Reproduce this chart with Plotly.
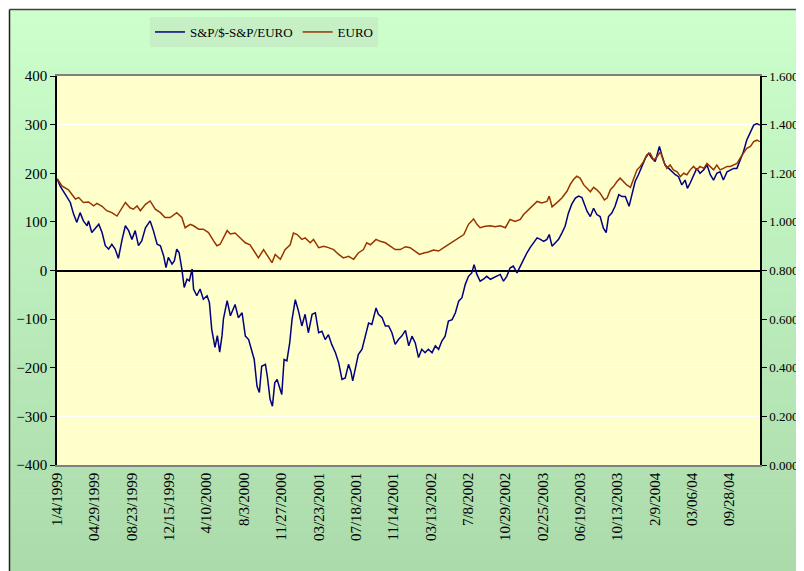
import plotly.graph_objects as go

# ---------------- data ----------------
# trading-day index since 1/4/1999 for each sampled point
spread_days = [0,6,17,28,35,42,49,56,64,67,74,81,89,96,103,110,117,124,131,139,146,153,160,167,174,181,189,199,206,214,221,228,233,238,246,251,256,261,267,272,278,283,289,292,299,306,313,321,326,331,338,343,348,353,356,364,371,381,388,396,403,410,417,422,428,433,438,446,450,456,461,466,471,476,481,486,492,498,503,510,517,524,531,538,546,553,560,567,574,581,588,596,603,610,617,624,629,633,638,645,653,660,667,674,683,688,696,703,710,717,724,731,738,746,753,760,767,774,781,788,795,803,810,817,824,831,838,846,853,860,867,874,881,888,893,899,906,913,920,928,935,942,949,956,963,970,977,985,992,999,1006,1013,1020,1028,1035,1042,1049,1054,1060,1067,1074,1081,1088,1095,1102,1110,1117,1124,1130,1135,1142,1149,1156,1163,1170,1176,1181,1188,1195,1203,1210,1217,1225,1231,1238,1245,1253,1260,1267,1274,1281,1290,1295,1302,1310,1317,1324,1331,1338,1345,1350,1356,1363,1370,1377,1385,1392,1399,1406,1413,1420,1427,1435,1442,1449,1456,1463,1470,1477,1485,1492,1499,1505]
# S&P/$ - S&P/EURO (left axis)
spread_values = [188,174,157,140,116,99,119,102,92,102,78,85,95,78,51,44,54,44,25,64,92,82,64,82,51,61,88,102,82,54,51,30,6,27,13,20,44,37,3,-35,-18,-21,3,-38,-52,-38,-59,-52,-66,-121,-158,-134,-168,-134,-100,-62,-93,-70,-97,-87,-135,-142,-166,-183,-238,-251,-197,-193,-217,-265,-279,-231,-224,-238,-255,-183,-186,-149,-101,-60,-84,-114,-90,-128,-90,-87,-128,-125,-142,-132,-152,-169,-190,-224,-221,-193,-207,-227,-203,-173,-162,-135,-108,-111,-77,-90,-97,-114,-114,-128,-152,-142,-135,-123,-155,-135,-149,-179,-162,-169,-162,-169,-155,-162,-145,-135,-104,-101,-87,-63,-56,-29,-12,-5,12,-8,-22,-18,-12,-18,-15,-12,-8,-22,-12,5,9,-5,9,23,36,47,57,67,64,60,64,74,50,57,64,77,91,118,136,149,153,150,132,122,111,128,115,111,87,78,111,118,132,156,152,152,132,156,183,197,217,231,241,231,224,255,238,217,210,203,197,193,176,186,169,180,197,210,200,207,217,197,186,200,203,186,203,207,210,210,227,244,268,285,299,302,299]

euro_days = [0,10,24,39,46,56,67,78,85,96,106,117,128,139,146,156,163,171,178,189,199,210,221,231,242,256,267,274,285,292,303,313,324,335,342,349,356,364,371,381,392,403,413,424,431,442,453,460,467,478,488,499,506,514,524,531,542,549,560,571,581,592,603,613,624,635,645,656,663,671,683,692,703,713,724,735,746,756,767,776,785,795,806,817,828,838,849,860,871,881,892,899,906,917,928,938,949,960,970,981,992,999,1010,1020,1028,1038,1049,1054,1060,1070,1081,1092,1099,1106,1113,1120,1128,1135,1142,1149,1156,1163,1172,1178,1185,1192,1199,1206,1213,1220,1228,1235,1242,1249,1256,1263,1270,1278,1285,1292,1299,1306,1313,1320,1328,1335,1342,1349,1356,1363,1370,1377,1385,1392,1399,1406,1413,1420,1427,1435,1442,1449,1456,1463,1470,1477,1485,1492,1499,1505]
# EURO in $ (right axis)
euro_values = [1.178,1.148,1.132,1.094,1.100,1.080,1.082,1.066,1.076,1.064,1.046,1.038,1.024,1.058,1.080,1.058,1.052,1.066,1.046,1.072,1.086,1.052,1.038,1.018,1.018,1.038,1.018,0.976,0.990,0.984,0.970,0.970,0.956,0.922,0.902,0.908,0.936,0.964,0.950,0.954,0.934,0.914,0.906,0.872,0.852,0.886,0.852,0.832,0.866,0.846,0.886,0.906,0.954,0.948,0.928,0.934,0.914,0.928,0.894,0.900,0.894,0.886,0.866,0.852,0.858,0.846,0.872,0.886,0.914,0.906,0.928,0.920,0.914,0.900,0.886,0.886,0.898,0.894,0.880,0.866,0.872,0.876,0.884,0.880,0.894,0.906,0.920,0.934,0.948,0.990,1.012,0.990,0.976,0.982,0.984,0.980,0.984,0.976,1.010,1.002,1.010,1.030,1.050,1.072,1.084,1.078,1.084,1.106,1.062,1.078,1.098,1.126,1.154,1.174,1.188,1.180,1.152,1.138,1.124,1.142,1.132,1.118,1.090,1.098,1.132,1.146,1.166,1.180,1.166,1.152,1.142,1.180,1.214,1.228,1.248,1.276,1.282,1.254,1.268,1.288,1.248,1.220,1.234,1.214,1.206,1.186,1.200,1.194,1.214,1.228,1.214,1.228,1.220,1.240,1.228,1.214,1.234,1.214,1.220,1.228,1.228,1.234,1.240,1.262,1.282,1.302,1.310,1.330,1.336,1.330]

assert len(spread_days) == len(spread_values), (len(spread_days), len(spread_values))
assert len(euro_days) == len(euro_values), (len(euro_days), len(euro_values))

tick_days = [0,80,160,240,320,400,480,560,640,720,800,880,960,1040,1120,1200,1280,1360,1440]
tick_labels = ["1/4/1999","04/29/1999","08/23/1999","12/15/1999","4/10/2000","8/3/2000",
               "11/27/2000","03/23/2001","07/18/2001","11/14/2001","03/13/2002","7/8/2002",
               "10/29/2002","02/25/2003","06/19/2003","10/13/2003","2/9/2004","03/06/04","09/28/04"]
n_days = 1506

# ---------------- layout geometry ----------------
# the page places the figure 8px from the top-left corner; geometry below is in figure px
OFF = 8
W, H = 804 - OFF, 571 - OFF
L, T = 57 - OFF, 76 - OFF
pw, ph = 703, 389
R, B = W - L - pw, H - T - ph


def px_x(p):  # p = screen px
    return (p - OFF - L) / pw


def px_y(p):
    return (T + ph - (p - OFF)) / ph


FONT = "Liberation Serif, Times New Roman, serif"

fig = go.Figure()
fig.add_trace(go.Scatter(x=spread_days, y=spread_values, mode="lines",
                         name="S&P/$-S&P/EURO", line=dict(color="#000080", width=1.5)))
fig.add_trace(go.Scatter(x=euro_days, y=euro_values, mode="lines", name="EURO",
                         yaxis="y2", line=dict(color="#993300", width=1.5)))

shapes = []
# green gradient background
top_c = (0xCC, 0xFF, 0xCC)
bot_c = (0xAB, 0xDA, 0xAB)
nb = 40
y0p, y1p = 10, 575
for i in range(nb):
    a = y0p + (y1p - y0p) * i / nb
    b = y0p + (y1p - y0p) * (i + 1) / nb + 0.6
    t = (i + 0.5) / nb
    c = tuple(round(top_c[k] + (bot_c[k] - top_c[k]) * t) for k in range(3))
    shapes.append(dict(type="rect", xref="paper", yref="paper",
                       x0=px_x(10), x1=px_x(810), y0=px_y(b), y1=px_y(a),
                       line=dict(width=0), fillcolor="rgb(%d,%d,%d)" % c, layer="below"))
# plot area
shapes.append(dict(type="rect", xref="paper", yref="paper", x0=0, x1=1, y0=0, y1=1,
                   line=dict(width=0), fillcolor="#FFFFCC", layer="below"))
# outer frame
shapes.append(dict(type="line", xref="paper", yref="paper", x0=px_x(9.5), x1=px_x(9.5),
                   y0=px_y(9.5), y1=px_y(580), line=dict(color="#202020", width=1.5), layer="below"))
shapes.append(dict(type="line", xref="paper", yref="paper", x0=px_x(9.5), x1=px_x(810),
                   y0=px_y(9.5), y1=px_y(9.5), line=dict(color="#404040", width=1.5), layer="below"))

fig.update_layout(
    width=W, height=H,
    margin=dict(l=L, r=R, t=T, b=B, autoexpand=False),
    paper_bgcolor="white",
    plot_bgcolor="rgba(0,0,0,0)",
    font=dict(family=FONT, size=14, color="black"),
    shapes=shapes,
    showlegend=True,
    legend=dict(orientation="h", x=px_x(264), y=px_y(32), xanchor="center", yanchor="middle",
                bgcolor="#C6EFC6", font=dict(family=FONT, size=13, color="black"),
                itemwidth=30, tracegroupgap=0),
    xaxis=dict(range=[-0.5, n_days - 0.5], tickmode="array", tickvals=tick_days,
               ticktext=tick_labels, tickangle=-90, ticks="", showgrid=False,
               showline=True, linecolor="#808080", linewidth=1.5, mirror=True,
               zeroline=False, automargin=False, tickfont=dict(family=FONT, size=15)),
    yaxis=dict(range=[-400, 400], dtick=100, showgrid=True, gridcolor="white", gridwidth=1,
               zeroline=True, zerolinecolor="black", zerolinewidth=1.5,
               showline=True, linecolor="black", linewidth=1.5,
               ticks="outside", ticklen=5, tickcolor="black", automargin=False,
               tickfont=dict(family=FONT, size=15)),
    yaxis2=dict(range=[0, 1.6], dtick=0.2, tickformat=".4f", overlaying="y", side="right",
                showgrid=False, zeroline=False, showline=True, linecolor="black", linewidth=1.5,
                ticks="outside", ticklen=5, tickcolor="black", automargin=False,
                tickfont=dict(family=FONT, size=13)),
)

fig.write_html("out.html")
